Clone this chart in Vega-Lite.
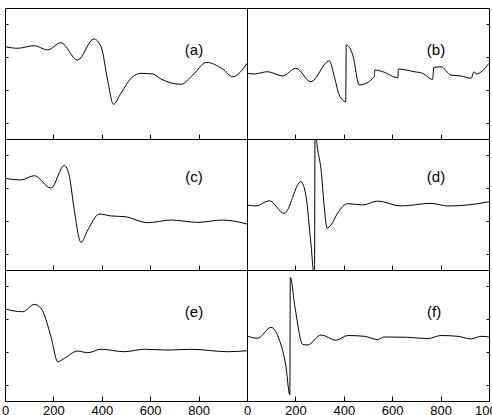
{
  "$schema": "https://vega.github.io/schema/vega-lite/v6.json",
  "padding": {"left": 0, "top": 7, "right": 0, "bottom": 0},
  "spacing": 0,
  "columns": 2,
  "bounds": "flush",
  "config": {
    "view": {"stroke": "black", "strokeWidth": 1},
    "axis": {"domain": false, "grid": false, "tickColor": "black", "tickWidth": 1, "labelFont": "Liberation Sans", "labelFontSize": 13, "labelColor": "black", "labelFlush": false, "labelOverlap": false, "minExtent": 0, "labelPadding": 8},
    "concat": {"spacing": 0}
  },
  "datasets": {
    "curves": [
      {"p":"a","x":0,"y":5.64},{"p":"a","x":52,"y":5.54},{"p":"a","x":120,"y":5.70},{"p":"a","x":176,"y":5.44},{"p":"a","x":231,"y":5.88},{"p":"a","x":300,"y":4.82},{"p":"a","x":367,"y":6.11},{"p":"a","x":397,"y":5.64},{"p":"a","x":424,"y":3.60},{"p":"a","x":448,"y":2.12},{"p":"a","x":479,"y":2.79},{"p":"a","x":521,"y":3.71},{"p":"a","x":562,"y":4.01},{"p":"a","x":610,"y":3.97},{"p":"a","x":645,"y":3.66},{"p":"a","x":727,"y":3.34},{"p":"a","x":776,"y":3.91},{"p":"a","x":833,"y":4.68},{"p":"a","x":900,"y":4.27},{"p":"a","x":941,"y":3.80},{"p":"a","x":1000,"y":4.62},
      {"p":"b","x":0,"y":4.01},{"p":"b","x":30,"y":3.97},{"p":"b","x":85,"y":4.11},{"p":"b","x":147,"y":3.85},{"p":"b","x":202,"y":4.32},{"p":"b","x":264,"y":3.50},{"p":"b","x":340,"y":4.78},{"p":"b","x":361,"y":3.80},{"p":"b","x":381,"y":2.69},{"p":"b","x":408,"y":2.28},{"p":"b","x":410,"y":5.74},{"p":"b","x":437,"y":5.13},{"p":"b","x":464,"y":3.30},{"p":"b","x":526,"y":3.80},{"p":"b","x":528,"y":4.21},{"p":"b","x":561,"y":4.11},{"p":"b","x":623,"y":3.74},{"p":"b","x":626,"y":4.27},{"p":"b","x":691,"y":4.11},{"p":"b","x":726,"y":4.01},{"p":"b","x":767,"y":3.64},{"p":"b","x":772,"y":4.37},{"p":"b","x":802,"y":4.41},{"p":"b","x":843,"y":3.90},{"p":"b","x":884,"y":3.85},{"p":"b","x":926,"y":3.71},{"p":"b","x":938,"y":4.11},{"p":"b","x":947,"y":3.97},{"p":"b","x":1000,"y":4.62},
      {"p":"c","x":0,"y":5.60},{"p":"c","x":66,"y":5.50},{"p":"c","x":121,"y":5.76},{"p":"c","x":190,"y":5.00},{"p":"c","x":245,"y":6.39},{"p":"c","x":266,"y":5.72},{"p":"c","x":286,"y":3.68},{"p":"c","x":314,"y":1.69},{"p":"c","x":342,"y":2.44},{"p":"c","x":390,"y":3.42},{"p":"c","x":438,"y":3.30},{"p":"c","x":493,"y":3.26},{"p":"c","x":590,"y":2.89},{"p":"c","x":686,"y":3.05},{"p":"c","x":796,"y":2.91},{"p":"c","x":900,"y":3.05},{"p":"c","x":1000,"y":2.81},
      {"p":"d","x":0,"y":3.97},{"p":"d","x":37,"y":3.91},{"p":"d","x":92,"y":4.23},{"p":"d","x":154,"y":3.46},{"p":"d","x":223,"y":5.40},{"p":"d","x":244,"y":4.48},{"p":"d","x":264,"y":1.63},{"p":"d","x":279,"y":-0.5},{"p":"d","x":281,"y":8.5},{"p":"d","x":292,"y":7.34},{"p":"d","x":306,"y":6.13},{"p":"d","x":319,"y":3.88},{"p":"d","x":331,"y":2.55},{"p":"d","x":347,"y":2.75},{"p":"d","x":375,"y":3.48},{"p":"d","x":416,"y":4.05},{"p":"d","x":478,"y":3.97},{"p":"d","x":540,"y":4.21},{"p":"d","x":636,"y":3.91},{"p":"d","x":760,"y":4.07},{"p":"d","x":829,"y":3.91},{"p":"d","x":912,"y":3.97},{"p":"d","x":1000,"y":4.17},
      {"p":"e","x":0,"y":5.62},{"p":"e","x":73,"y":5.45},{"p":"e","x":121,"y":5.90},{"p":"e","x":149,"y":5.66},{"p":"e","x":190,"y":3.93},{"p":"e","x":218,"y":2.40},{"p":"e","x":245,"y":2.60},{"p":"e","x":300,"y":3.05},{"p":"e","x":342,"y":2.95},{"p":"e","x":397,"y":3.16},{"p":"e","x":493,"y":3.01},{"p":"e","x":576,"y":3.16},{"p":"e","x":672,"y":3.11},{"p":"e","x":769,"y":3.16},{"p":"e","x":920,"y":3.01},{"p":"e","x":1000,"y":3.07},
      {"p":"f","x":0,"y":3.97},{"p":"f","x":44,"y":3.83},{"p":"f","x":99,"y":4.50},{"p":"f","x":134,"y":3.72},{"p":"f","x":161,"y":2.10},{"p":"f","x":177,"y":0.37},{"p":"f","x":179,"y":7.55},{"p":"f","x":198,"y":5.76},{"p":"f","x":230,"y":3.46},{"p":"f","x":251,"y":3.42},{"p":"f","x":306,"y":4.03},{"p":"f","x":368,"y":3.71},{"p":"f","x":416,"y":4.00},{"p":"f","x":485,"y":3.95},{"p":"f","x":540,"y":3.75},{"p":"f","x":567,"y":3.91},{"p":"f","x":664,"y":3.89},{"p":"f","x":747,"y":3.81},{"p":"f","x":802,"y":4.00},{"p":"f","x":871,"y":3.95},{"p":"f","x":926,"y":3.79},{"p":"f","x":967,"y":3.95},{"p":"f","x":1000,"y":3.91}
    ],
    "labels": [
      {"p":"a","x":781,"y":5.44,"t":"(a)"},{"p":"b","x":781,"y":5.44,"t":"(b)"},{"p":"c","x":781,"y":5.70,"t":"(c)"},{"p":"d","x":781,"y":5.70,"t":"(d)"},{"p":"e","x":781,"y":5.45,"t":"(e)"},{"p":"f","x":773,"y":5.45,"t":"(f)"}
    ]
  },
  "concat": [
      {"width": 242, "height": 131, "layer": [
        {"data": {"name": "curves"}, "transform": [{"filter": "datum.p == 'a'"}], "mark": {"type": "line", "interpolate": "monotone", "color": "black", "strokeWidth": 1, "clip": true},
         "encoding": {"x": {"field": "x", "type": "quantitative", "scale": {"domain": [0, 1000]}, "axis": {"title": null, "values": [0,100,200,300,400,500,600,700,800,900,1000], "labels": false, "tickSize": {"condition": {"test": "datum.value % 200 === 0", "value": -5}, "value": -3}}},
                      "y": {"field": "y", "type": "quantitative", "scale": {"domain": [0, 8]}, "axis": {"title": null, "values": [1,2,3,4,5,6,7], "labels": false, "tickSize": {"condition": {"test": "datum.value % 2 === 0", "value": -5}, "value": -3}}}}},
        {"data": {"name": "labels"}, "transform": [{"filter": "datum.p == 'a'"}], "mark": {"type": "text", "font": "Liberation Sans", "fontSize": 15, "color": "black"},
         "encoding": {"x": {"field": "x", "type": "quantitative", "scale": {"domain": [0, 1000]}}, "y": {"field": "y", "type": "quantitative", "scale": {"domain": [0, 8]}}, "text": {"field": "t"}}}
      ]},
      {"width": 242, "height": 131, "layer": [
        {"data": {"name": "curves"}, "transform": [{"filter": "datum.p == 'b'"}], "mark": {"type": "line", "interpolate": "monotone", "color": "black", "strokeWidth": 1, "clip": true},
         "encoding": {"x": {"field": "x", "type": "quantitative", "scale": {"domain": [0, 1000]}, "axis": {"title": null, "values": [0,100,200,300,400,500,600,700,800,900,1000], "labels": false, "tickSize": {"condition": {"test": "datum.value % 200 === 0", "value": -5}, "value": -3}}},
                      "y": {"field": "y", "type": "quantitative", "scale": {"domain": [0, 8]}, "axis": {"orient": "right", "title": null, "values": [1,2,3,4,5,6,7], "labels": false, "tickSize": {"condition": {"test": "datum.value % 2 === 0", "value": -5}, "value": -3}}}}},
        {"data": {"name": "labels"}, "transform": [{"filter": "datum.p == 'b'"}], "mark": {"type": "text", "font": "Liberation Sans", "fontSize": 15, "color": "black"},
         "encoding": {"x": {"field": "x", "type": "quantitative", "scale": {"domain": [0, 1000]}}, "y": {"field": "y", "type": "quantitative", "scale": {"domain": [0, 8]}}, "text": {"field": "t"}}}
      ]},
      {"width": 242, "height": 131, "layer": [
        {"data": {"name": "curves"}, "transform": [{"filter": "datum.p == 'c'"}], "mark": {"type": "line", "interpolate": "monotone", "color": "black", "strokeWidth": 1, "clip": true},
         "encoding": {"x": {"field": "x", "type": "quantitative", "scale": {"domain": [0, 1000]}, "axis": {"title": null, "values": [0,100,200,300,400,500,600,700,800,900,1000], "labels": false, "tickSize": {"condition": {"test": "datum.value % 200 === 0", "value": -5}, "value": -3}}},
                      "y": {"field": "y", "type": "quantitative", "scale": {"domain": [0, 8]}, "axis": {"title": null, "values": [1,2,3,4,5,6,7], "labels": false, "tickSize": {"condition": {"test": "datum.value % 2 === 0", "value": -5}, "value": -3}}}}},
        {"data": {"name": "labels"}, "transform": [{"filter": "datum.p == 'c'"}], "mark": {"type": "text", "font": "Liberation Sans", "fontSize": 15, "color": "black"},
         "encoding": {"x": {"field": "x", "type": "quantitative", "scale": {"domain": [0, 1000]}}, "y": {"field": "y", "type": "quantitative", "scale": {"domain": [0, 8]}}, "text": {"field": "t"}}}
      ]},
      {"width": 242, "height": 131, "layer": [
        {"data": {"name": "curves"}, "transform": [{"filter": "datum.p == 'd'"}], "mark": {"type": "line", "interpolate": "monotone", "color": "black", "strokeWidth": 1, "clip": true},
         "encoding": {"x": {"field": "x", "type": "quantitative", "scale": {"domain": [0, 1000]}, "axis": {"title": null, "values": [0,100,200,300,400,500,600,700,800,900,1000], "labels": false, "tickSize": {"condition": {"test": "datum.value % 200 === 0", "value": -5}, "value": -3}}},
                      "y": {"field": "y", "type": "quantitative", "scale": {"domain": [0, 8]}, "axis": {"orient": "right", "title": null, "values": [1,2,3,4,5,6,7], "labels": false, "tickSize": {"condition": {"test": "datum.value % 2 === 0", "value": -5}, "value": -3}}}}},
        {"data": {"name": "labels"}, "transform": [{"filter": "datum.p == 'd'"}], "mark": {"type": "text", "font": "Liberation Sans", "fontSize": 15, "color": "black"},
         "encoding": {"x": {"field": "x", "type": "quantitative", "scale": {"domain": [0, 1000]}}, "y": {"field": "y", "type": "quantitative", "scale": {"domain": [0, 8]}}, "text": {"field": "t"}}}
      ]},
      {"width": 242, "height": 131, "layer": [
        {"data": {"name": "curves"}, "transform": [{"filter": "datum.p == 'e'"}], "mark": {"type": "line", "interpolate": "monotone", "color": "black", "strokeWidth": 1, "clip": true},
         "encoding": {"x": {"field": "x", "type": "quantitative", "scale": {"domain": [0, 1000]}, "axis": {"title": null, "format": "d", "values": [0,100,200,300,400,500,600,700,800,900,1000], "labels": true, "labelExpr": "datum.value % 200 === 0 && datum.value < 1000 ? datum.label : ''", "tickSize": {"condition": {"test": "datum.value % 200 === 0", "value": -5}, "value": -3}}},
                      "y": {"field": "y", "type": "quantitative", "scale": {"domain": [0, 8]}, "axis": {"title": null, "values": [1,2,3,4,5,6,7], "labels": false, "tickSize": {"condition": {"test": "datum.value % 2 === 0", "value": -5}, "value": -3}}}}},
        {"data": {"name": "labels"}, "transform": [{"filter": "datum.p == 'e'"}], "mark": {"type": "text", "font": "Liberation Sans", "fontSize": 15, "color": "black"},
         "encoding": {"x": {"field": "x", "type": "quantitative", "scale": {"domain": [0, 1000]}}, "y": {"field": "y", "type": "quantitative", "scale": {"domain": [0, 8]}}, "text": {"field": "t"}}}
      ]},
      {"width": 242, "height": 131, "layer": [
        {"data": {"name": "curves"}, "transform": [{"filter": "datum.p == 'f'"}], "mark": {"type": "line", "interpolate": "monotone", "color": "black", "strokeWidth": 1, "clip": true},
         "encoding": {"x": {"field": "x", "type": "quantitative", "scale": {"domain": [0, 1000]}, "axis": {"title": null, "format": "d", "values": [0,100,200,300,400,500,600,700,800,900,1000], "labels": true, "labelExpr": "datum.value % 200 === 0 ? datum.label : ''", "tickSize": {"condition": {"test": "datum.value % 200 === 0", "value": -5}, "value": -3}}},
                      "y": {"field": "y", "type": "quantitative", "scale": {"domain": [0, 8]}, "axis": {"orient": "right", "title": null, "values": [1,2,3,4,5,6,7], "labels": false, "tickSize": {"condition": {"test": "datum.value % 2 === 0", "value": -5}, "value": -3}}}}},
        {"data": {"name": "labels"}, "transform": [{"filter": "datum.p == 'f'"}], "mark": {"type": "text", "font": "Liberation Sans", "fontSize": 15, "color": "black"},
         "encoding": {"x": {"field": "x", "type": "quantitative", "scale": {"domain": [0, 1000]}}, "y": {"field": "y", "type": "quantitative", "scale": {"domain": [0, 8]}}, "text": {"field": "t"}}}
      ]}
  ]
}
